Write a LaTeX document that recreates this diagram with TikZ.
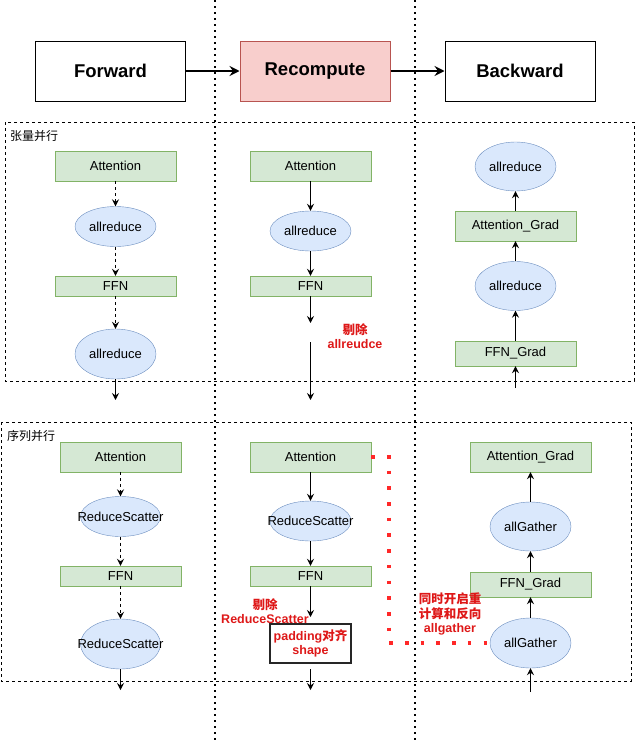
\documentclass[tikz,border=0pt]{standalone}
\usepackage{fontspec}
\setmainfont{Liberation Sans}
\newfontfamily\cjk{Noto Sans CJK SC}
\usetikzlibrary{arrows.meta,shapes.geometric}
\definecolor{opfill}{HTML}{D5E8D4}
\definecolor{opline}{HTML}{82B366}
\definecolor{commfill}{HTML}{DAE8FC}
\definecolor{commline}{HTML}{6C8EBF}
\definecolor{recfill}{HTML}{F8CECC}
\definecolor{recline}{HTML}{B85450}
\definecolor{notered}{RGB}{222,24,24}
\definecolor{dotred}{RGB}{255,40,40}
\tikzset{
	phase/.style={draw=black, line width=1pt, minimum width=150pt, minimum height=60pt, inner sep=0pt, font=\fontsize{18.5}{20}\selectfont\bfseries},
	opbox/.style={draw=opline, fill=opfill, minimum width=121pt, inner sep=0pt, font=\fontsize{13}{15}\selectfont},
	comm/.style={ellipse, draw=commline, fill=commfill, minimum width=81pt, inner sep=0pt, font=\fontsize{13}{15}\selectfont},
	note/.style={text=notered, align=center, inner sep=0pt, font=\fontsize{12.5}{14.5}\selectfont\bfseries},
	flow/.style={-{Stealth[length=7pt,width=7pt,inset=2.5pt]}, line width=1pt},
	bigflow/.style={-{Stealth[length=10pt,width=10pt,inset=3.5pt]}, line width=2pt},
	section/.style={draw=black, line width=0.8pt, dash pattern=on 3pt off 3pt},
	lane/.style={draw=black, line width=1.5pt, dash pattern=on 1.5pt off 4.5pt},
	reddots/.style={draw=dotred, line width=3.6pt, dash pattern=on 3.6pt off 12.1pt}
}

\begin{document}
\begin{tikzpicture}[x=1pt, y=-1pt]
			%%%%% START %%%%%
			\useasboundingbox (0, 0) rectangle (636, 744);
			
			\draw[lane] (215, 0) -- (215, 744);
			\draw[lane] (415, 0) -- (415, 744);
			
			\node[phase] (fw) at (110.5, 71) {Forward};
			\node[phase, draw=recline, fill=recfill] (rc) at (315, 71) {Recompute};
			\node[phase] (bw) at (520, 71) {Backward};
			\draw[bigflow] (fw) -- (rc);
			\draw[bigflow] (rc) -- (bw);
			
			%%%%% TENSOR PARALLEL %%%%%
			\draw[section] (5, 122) rectangle (634, 381);
			\node[anchor=west, inner sep=0pt, font=\fontsize{12}{14}\cjk] (tplabel) at (10, 136) {张量并行};
			
			\node[opbox, minimum height=30pt] (ta) at (115.5, 166) {Attention};
			\node[comm, minimum height=40pt] (tr1) at (115.5, 226.5) {allreduce};
			\node[opbox, minimum height=20pt] (tf) at (115.5, 286) {FFN};
			\node[comm, minimum height=50pt] (tr2) at (115.5, 354) {allreduce};
			\coordinate (tend) at (115.5, 400);
			\draw[flow, dash pattern=on 3pt off 3pt] (ta) -- (tr1);
			\draw[flow, dash pattern=on 3pt off 3pt] (tr1) -- (tf);
			\draw[flow, dash pattern=on 3pt off 3pt] (tf) -- (tr2);
			\draw[flow] (tr2) -- (tend);
			
			\node[opbox, minimum height=30pt] (ma) at (310.5, 166) {Attention};
			\node[comm, minimum height=40pt] (mr1) at (310.5, 231) {allreduce};
			\node[opbox, minimum height=20pt] (mf) at (310.5, 286) {FFN};
			\coordinate (mcut) at (310.5, 323);
			\coordinate (mres) at (310.5, 342);
			\coordinate (mend) at (310.5, 400);
			\draw[flow] (ma) -- (mr1);
			\draw[flow] (mr1) -- (mf);
			\draw[flow] (mf) -- (mcut);
			\draw[flow] (mres) -- (mend);
			\node[note] (mdrop) at (355, 336) {{\cjk 剔除}\\allreudce};
			
			\node[comm, minimum height=49pt] (br1) at (515.5, 166.5) {allreduce};
			\node[opbox, minimum height=30pt] (bag) at (515.5, 226) {Attention\_Grad};
			\node[comm, minimum height=49pt] (br2) at (515.5, 286) {allreduce};
			\node[opbox, minimum height=25pt] (bfg) at (515.5, 353.5) {FFN\_Grad};
			\coordinate (bstart) at (515.5, 388);
			\draw[flow] (bstart) -- (bfg);
			\draw[flow] (bfg) -- (br2);
			\draw[flow] (br2) -- (bag);
			\draw[flow] (bag) -- (br1);
			
			%%%%% SEQUENCE PARALLEL %%%%%
			\draw[section] (1, 422) rectangle (631, 681);
			\node[anchor=west, inner sep=0pt, font=\fontsize{12}{14}\cjk] (splabel) at (7, 436) {序列并行};
			
			\node[opbox, minimum height=30pt] (sa) at (120.5, 457) {Attention};
			\node[comm, minimum height=40pt, minimum width=80pt] (sr1) at (120.5, 516.5) {\makebox[0pt]{ReduceScatter}};
			\node[opbox, minimum height=20pt] (sf) at (120.5, 576) {FFN};
			\node[comm, minimum height=50pt, minimum width=80pt] (sr2) at (120.5, 644) {\makebox[0pt]{ReduceScatter}};
			\coordinate (send) at (120.5, 690);
			\draw[flow, dash pattern=on 3pt off 3pt] (sa) -- (sr1);
			\draw[flow, dash pattern=on 3pt off 3pt] (sr1) -- (sf);
			\draw[flow, dash pattern=on 3pt off 3pt] (sf) -- (sr2);
			\draw[flow] (sr2) -- (send);
			
			\node[opbox, minimum height=30pt] (na) at (310.5, 457) {Attention};
			\node[comm, minimum height=40pt] (nr1) at (310.5, 521) {\makebox[0pt]{ReduceScatter}};
			\node[opbox, minimum height=20pt] (nf) at (310.5, 576) {FFN};
			\coordinate (ncut) at (310.5, 617);
			\node[draw=black!85, line width=1.5pt, fill=white, minimum width=81pt, minimum height=39pt, note] (npad) at (310.5, 643.5) {padding{\cjk 对齐}\\shape};
			\coordinate (nres) at (310.5, 669);
			\coordinate (nend) at (310.5, 690);
			\draw[flow] (na) -- (nr1);
			\draw[flow] (nr1) -- (nf);
			\draw[flow] (nf) -- (ncut);
			\draw[flow] (nres) -- (nend);
			\node[note] (ndrop) at (265, 611) {{\cjk 剔除}\\ReduceScatter};
			
			\node[opbox, minimum height=30pt] (gag) at (530.5, 457) {Attention\_Grad};
			\node[comm, minimum height=49pt] (gg1) at (530.5, 526.5) {allGather};
			\node[opbox, minimum height=25pt] (gfg) at (530.5, 584.5) {FFN\_Grad};
			\node[comm, minimum height=50pt] (gg2) at (530.5, 643) {allGather};
			\coordinate (gstart) at (530.5, 692);
			\draw[flow] (gstart) -- (gg2);
			\draw[flow] (gg2) -- (gfg);
			\draw[flow] (gfg) -- (gg1);
			\draw[flow] (gg1) -- (gag);
			
			\coordinate (turn) at (389, 457);
			\draw[reddots] (na.east) -- (turn) |- (gg2.west);
			\node[note] (overlap) at (450, 614) {{\cjk 同时开启重}\\{\cjk 计算和反向}\\allgather};
			
			%%%%% END %%%%%
\end{tikzpicture}
\end{document}
